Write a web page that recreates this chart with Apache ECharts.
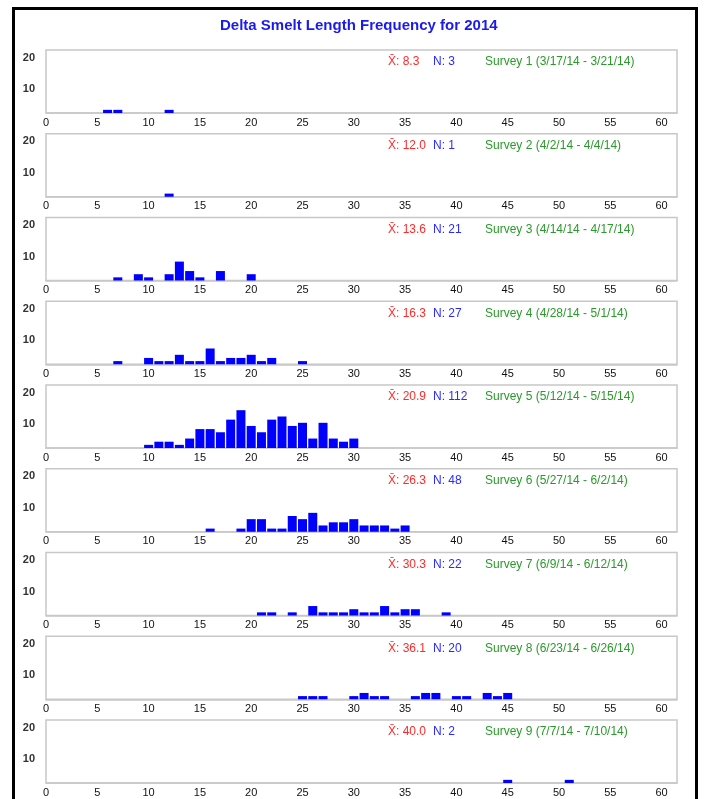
<!DOCTYPE html>
<html>
<head>
<meta charset="utf-8">
<script src="https://cdn.jsdelivr.net/npm/echarts@6/dist/echarts.min.js"></script>
<style>
html,body{margin:0;padding:0;background:#fff;}
#chart{width:704px;height:799px;}
</style>
</head>
<body>
<div id="chart"></div>
<script>
// ---- Data ----
const chartTitle = 'Delta Smelt Length Frequency for 2014';
const surveyNames = ['Survey 1','Survey 2','Survey 3','Survey 4','Survey 5','Survey 6','Survey 7','Survey 8','Survey 9'];
const surveyDates = ['(3/17/14 - 3/21/14)','(4/2/14 - 4/4/14)','(4/14/14 - 4/17/14)','(4/28/14 - 5/1/14)','(5/12/14 - 5/15/14)','(5/27/14 - 6/2/14)','(6/9/14 - 6/12/14)','(6/23/14 - 6/26/14)','(7/7/14 - 7/10/14)'];
const meanLengths = ['8.3','12.0','13.6','16.3','20.9','26.3','30.3','36.1','40.0'];
const sampleSizes = [3,1,21,27,112,48,22,20,2];

const s1Lengths = [6,7,12];
const s1Counts  = [1,1,1];
const s2Lengths = [12];
const s2Counts  = [1];
const s3Lengths = [7,9,10,12,13,14,15,17,20];
const s3Counts  = [1,2,1,2,6,3,1,3,2];
const s4Lengths = [7,10,11,12,13,14,15,16,17,18,19,20,21,22,25];
const s4Counts  = [1,2,1,1,3,1,1,5,1,2,2,3,1,2,1];
const s5Lengths = [10,11,12,13,14,15,16,17,18,19,20,21,22,23,24,25,26,27,28,29,30];
const s5Counts  = [1,2,2,1,3,6,6,5,9,12,7,5,9,10,7,8,3,8,3,2,3];
const s6Lengths = [16,19,20,21,22,23,24,25,26,27,28,29,30,31,32,33,34,35];
const s6Counts  = [1,1,4,4,1,1,5,4,6,2,3,3,4,2,2,2,1,2];
const s7Lengths = [21,22,24,26,27,28,29,30,31,32,33,34,35,36,39];
const s7Counts  = [1,1,1,3,1,1,1,2,1,1,3,1,2,2,1];
const s8Lengths = [25,26,27,30,31,32,33,36,37,38,40,41,43,44,45];
const s8Counts  = [1,1,1,1,2,1,1,1,2,2,1,1,2,1,2];
const s9Lengths = [45,51];
const s9Counts  = [1,1];

const allLengths = [s1Lengths,s2Lengths,s3Lengths,s4Lengths,s5Lengths,s6Lengths,s7Lengths,s8Lengths,s9Lengths];
const allCounts  = [s1Counts,s2Counts,s3Counts,s4Counts,s5Counts,s6Counts,s7Counts,s8Counts,s9Counts];

const xTickLabels = [0,5,10,15,20,25,30,35,40,45,50,55,60];
const yTickLabels = [10,20];

// ---- Layout ----
const chart = echarts.init(document.getElementById('chart'), null, {renderer:'canvas'});
const FONT = 'Arial, "Liberation Sans", sans-serif';
const gridLeft = 46, gridWidth = 631, firstTop = 50, step = 83.75, gridH = 63;

const grids = [], xAxes = [], yAxes = [], series = [], titles = [];
for (let i = 0; i < 9; i++) {
  const top = firstTop + i * step;
  grids.push({left: gridLeft, top: top, width: gridWidth, height: gridH, show: true,
    borderColor: '#c8c8c8', borderWidth: 1.5, backgroundColor: '#fff'});
  xAxes.push({type: 'value', gridIndex: i, min: 0, max: 61.5, interval: 5,
    axisLine: {show: true, lineStyle: {color: '#c8c8c8', width: 1.5}},
    axisTick: {show: false}, splitLine: {show: false},
    axisLabel: {show: true, margin: 4, fontSize: 11, color: '#111', fontFamily: FONT,
      showMaxLabel: false,
      formatter: v => (xTickLabels.indexOf(v) >= 0 ? String(v) : '')}});
  yAxes.push({type: 'value', gridIndex: i, min: 0, max: 20, interval: 10,
    axisLine: {show: false}, axisTick: {show: false}, splitLine: {show: false},
    axisLabel: {show: true, margin: 11, fontSize: 11, color: '#333', fontWeight: 'bold',
      fontFamily: FONT, verticalAlign: 'top', padding: [2, 0, 0, 0],
      formatter: v => (yTickLabels.indexOf(v) >= 0 ? String(v) : '')}});
  series.push({type: 'bar', xAxisIndex: i, yAxisIndex: i, barWidth: 9,
    itemStyle: {color: '#0000ff'}, silent: true, animation: false,
    data: allLengths[i].map((l, k) => [l, allCounts[i][k]])});
  const tTop = top + 6;
  titles.push({text: 'X\u0304: ' + meanLengths[i], left: 388, top: tTop, padding: 0,
    textStyle: {fontSize: 12, fontWeight: 'normal', color: '#ff2a2a', fontFamily: FONT}});
  titles.push({text: 'N: ' + sampleSizes[i], left: 433, top: tTop, padding: 0,
    textStyle: {fontSize: 12, fontWeight: 'normal', color: '#2a2aff', fontFamily: FONT}});
  titles.push({text: surveyNames[i] + ' ' + surveyDates[i], left: 485, top: tTop, padding: 0,
    textStyle: {fontSize: 12, fontWeight: 'normal', color: '#2a9a2a', fontFamily: FONT}});
}
titles.push({text: chartTitle, left: 220, top: 18, padding: 0,
  textStyle: {fontSize: 15, fontWeight: 'bold', color: '#1a1aee', fontFamily: FONT}});

chart.setOption({
  animation: false,
  backgroundColor: '#fff',
  title: titles,
  grid: grids,
  xAxis: xAxes,
  yAxis: yAxes,
  series: series,
  graphic: [{type: 'rect', shape: {x: 13.5, y: 8.5, width: 683, height: 830},
    style: {fill: 'none', stroke: '#000', lineWidth: 3}, silent: true, z: 100}]
});
</script>
</body>
</html>
